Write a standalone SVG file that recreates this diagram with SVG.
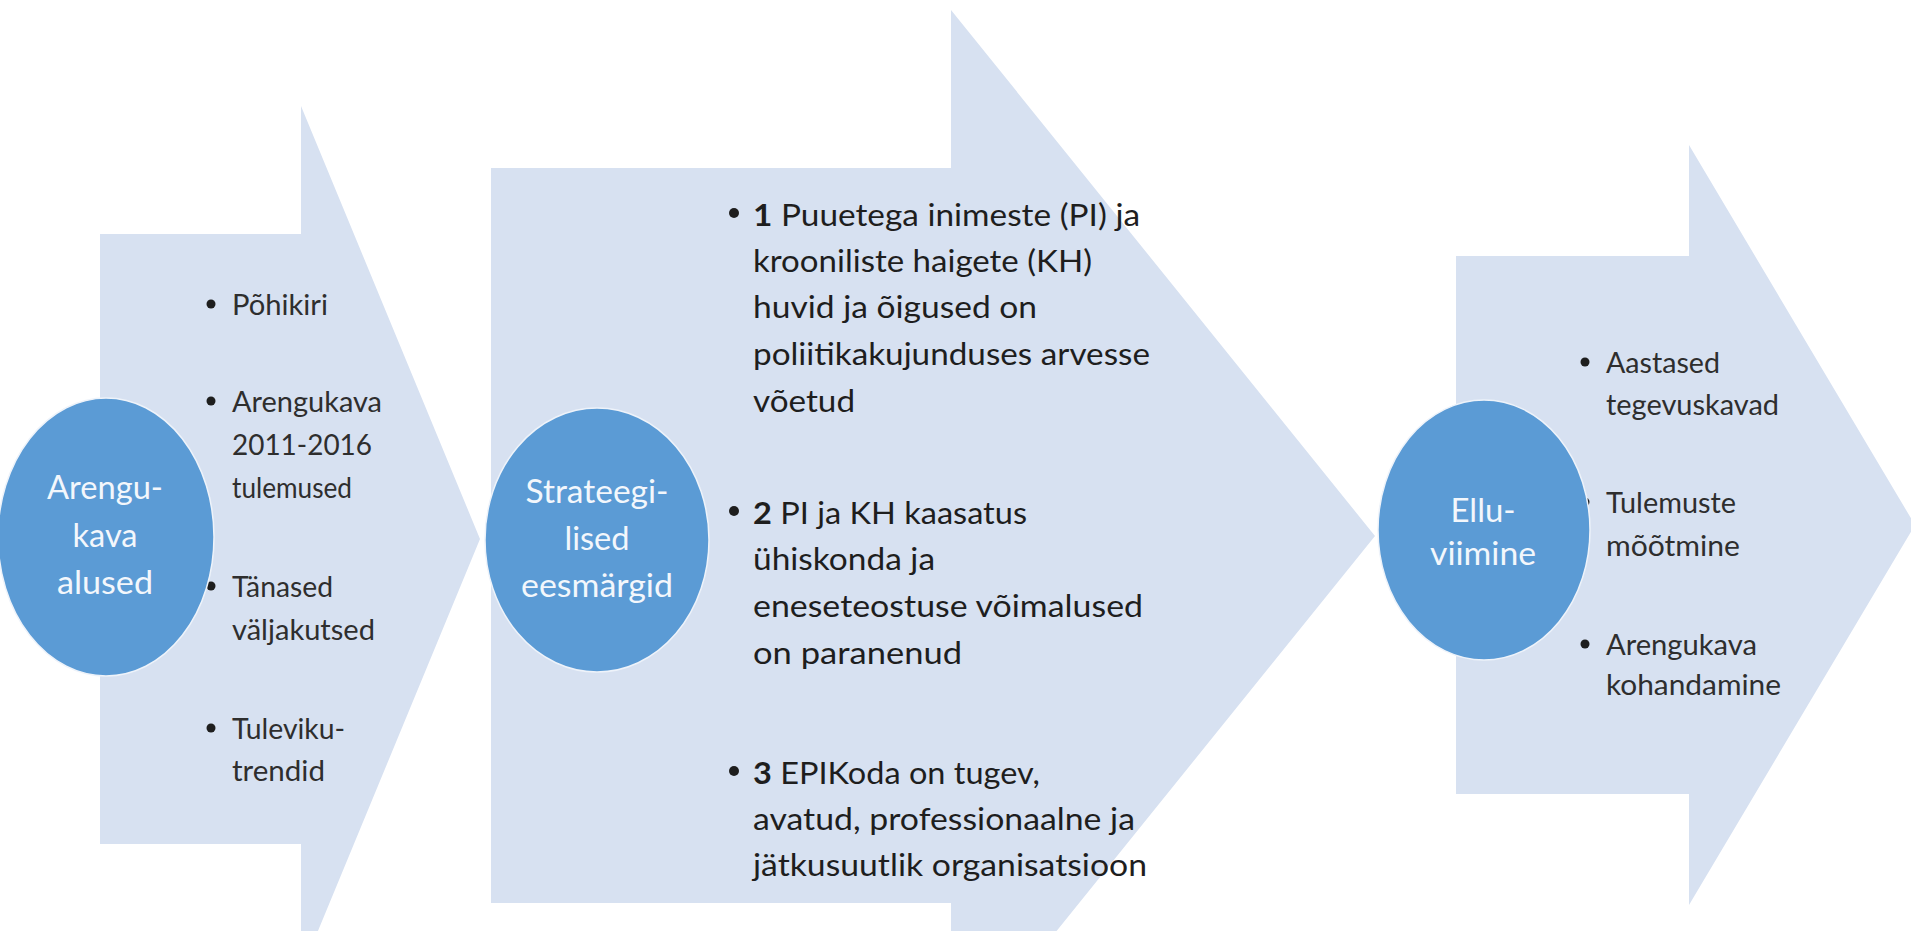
<svg xmlns="http://www.w3.org/2000/svg" width="1911" height="931" viewBox="0 0 1911 931">
<style>
.arrow{fill:#D7E1F1;}
.circ{fill:#5B9BD5;stroke:#EEF3FA;stroke-width:1.5;}
.ctxt{font-family:Lato,"Open Sans","Liberation Sans",sans-serif;font-size:32px;fill:#F3F7FC;text-anchor:middle;}
.side{font-family:Lato,"Open Sans","Liberation Sans",sans-serif;font-size:29px;fill:#2E2E2E;}
.main{font-family:Lato,"Open Sans","Liberation Sans",sans-serif;font-size:31px;fill:#1E1E1E;}
.dot{fill:#1E1E1E;}
.b{font-weight:bold;}
</style>
<rect width="1911" height="931" fill="#FFFFFF"/>
<g id="connectors"></g>
<g id="node1">
<polygon class="arrow" points="100,234 301,234 301,106 480,539 301,972 301,844 100,844"/>
<circle class="dot" cx="211" cy="304" r="4.5"/>
<circle class="dot" cx="211" cy="401" r="4.5"/>
<circle class="dot" cx="211" cy="586" r="4.5"/>
<circle class="dot" cx="211" cy="728" r="4.5"/>
<text class="side" x="232" y="315" textLength="96" lengthAdjust="spacingAndGlyphs">Põhikiri</text>
<text class="side" x="232" y="412" textLength="150" lengthAdjust="spacingAndGlyphs">Arengukava</text>
<text class="side" x="232" y="455" textLength="140" lengthAdjust="spacingAndGlyphs">2011-2016</text>
<text class="side" x="232" y="498" textLength="120" lengthAdjust="spacingAndGlyphs">tulemused</text>
<text class="side" x="232" y="597" textLength="101" lengthAdjust="spacingAndGlyphs">Tänased</text>
<text class="side" x="232" y="640" textLength="143" lengthAdjust="spacingAndGlyphs">väljakutsed</text>
<text class="side" x="232" y="739" textLength="113" lengthAdjust="spacingAndGlyphs">Tuleviku-</text>
<text class="side" x="232" y="781" textLength="93" lengthAdjust="spacingAndGlyphs">trendid</text>
<ellipse class="circ" cx="106" cy="537" rx="108" ry="139"/>
<text class="ctxt" x="105" y="499" textLength="116" lengthAdjust="spacingAndGlyphs">Arengu-</text>
<text class="ctxt" x="105" y="547" textLength="65" lengthAdjust="spacingAndGlyphs">kava</text>
<text class="ctxt" x="105" y="594" textLength="96" lengthAdjust="spacingAndGlyphs">alused</text>
</g>
<g id="node2">
<polygon class="arrow" points="491,168 951,168 951,10 1375,536 951,1062 951,903 491,903"/>
<circle class="dot" cx="734" cy="213" r="5"/>
<circle class="dot" cx="734" cy="511" r="5"/>
<circle class="dot" cx="734" cy="771" r="5"/>
<text class="main" x="753" y="226" textLength="387" lengthAdjust="spacingAndGlyphs"><tspan class="b">1</tspan> Puuetega inimeste (PI) ja</text>
<text class="main" x="753" y="272" textLength="339" lengthAdjust="spacingAndGlyphs">krooniliste haigete (KH)</text>
<text class="main" x="753" y="318" textLength="284" lengthAdjust="spacingAndGlyphs">huvid ja õigused on</text>
<text class="main" x="753" y="365" textLength="397" lengthAdjust="spacingAndGlyphs">poliitikakujunduses arvesse</text>
<text class="main" x="753" y="412" textLength="102" lengthAdjust="spacingAndGlyphs">võetud</text>
<text class="main" x="753" y="524" textLength="274" lengthAdjust="spacingAndGlyphs"><tspan class="b">2</tspan> PI ja KH kaasatus</text>
<text class="main" x="753" y="570" textLength="182" lengthAdjust="spacingAndGlyphs">ühiskonda ja</text>
<text class="main" x="753" y="617" textLength="390" lengthAdjust="spacingAndGlyphs">eneseteostuse võimalused</text>
<text class="main" x="753" y="664" textLength="209" lengthAdjust="spacingAndGlyphs">on paranenud</text>
<text class="main" x="753" y="784" textLength="287" lengthAdjust="spacingAndGlyphs"><tspan class="b">3</tspan> EPIKoda on tugev,</text>
<text class="main" x="753" y="830" textLength="382" lengthAdjust="spacingAndGlyphs">avatud, professionaalne ja</text>
<text class="main" x="753" y="876" textLength="394" lengthAdjust="spacingAndGlyphs">jätkusuutlik organisatsioon</text>
<ellipse class="circ" cx="597" cy="540" rx="112" ry="132"/>
<text class="ctxt" x="597" y="503" textLength="143" lengthAdjust="spacingAndGlyphs">Strateegi-</text>
<text class="ctxt" x="597" y="550" textLength="65" lengthAdjust="spacingAndGlyphs">lised</text>
<text class="ctxt" x="597" y="597" textLength="152" lengthAdjust="spacingAndGlyphs">eesmärgid</text>
</g>
<g id="node3">
<polygon class="arrow" points="1456,256 1689,256 1689,145 1915,525 1689,905 1689,794 1456,794"/>
<circle class="dot" cx="1585" cy="362" r="4.5"/>
<circle class="dot" cx="1585" cy="502" r="4.5"/>
<circle class="dot" cx="1585" cy="644" r="4.5"/>
<text class="side" x="1606" y="373" textLength="114" lengthAdjust="spacingAndGlyphs">Aastased</text>
<text class="side" x="1606" y="415" textLength="173" lengthAdjust="spacingAndGlyphs">tegevuskavad</text>
<text class="side" x="1606" y="513" textLength="130" lengthAdjust="spacingAndGlyphs">Tulemuste</text>
<text class="side" x="1606" y="556" textLength="134" lengthAdjust="spacingAndGlyphs">mõõtmine</text>
<text class="side" x="1606" y="655" textLength="151" lengthAdjust="spacingAndGlyphs">Arengukava</text>
<text class="side" x="1606" y="695" textLength="175" lengthAdjust="spacingAndGlyphs">kohandamine</text>
<ellipse class="circ" cx="1484" cy="530" rx="106" ry="130"/>
<text class="ctxt" x="1483" y="522" textLength="65" lengthAdjust="spacingAndGlyphs">Ellu-</text>
<text class="ctxt" x="1483" y="565" textLength="106" lengthAdjust="spacingAndGlyphs">viimine</text>
</g>
</svg>
